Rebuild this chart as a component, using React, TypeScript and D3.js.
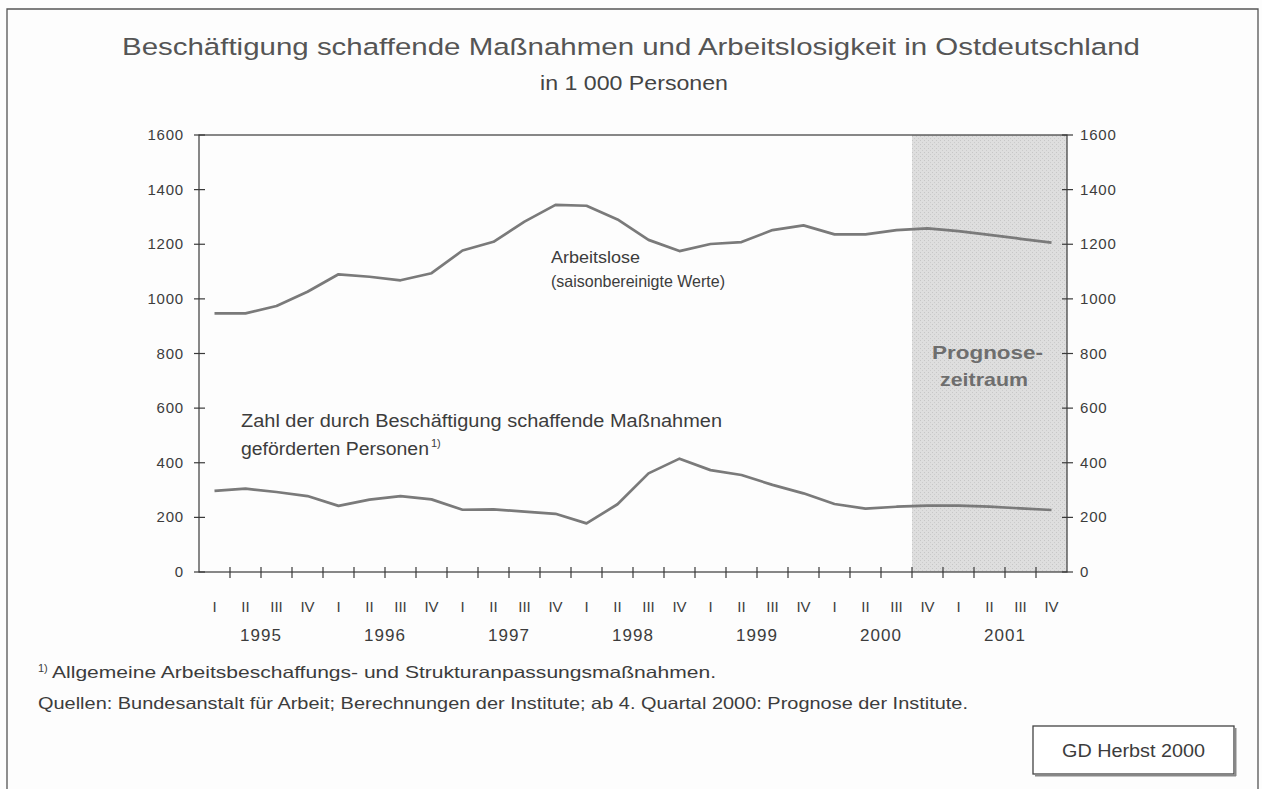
import React from "react";
import * as d3 from "d3";

const years = ["1995", "1996", "1997", "1998", "1999", "2000", "2001"];
const quarterNames = ["I", "II", "III", "IV"];
const arbeitslose = [947, 947, 974, 1026, 1090, 1081, 1068, 1094, 1177, 1209, 1283, 1344, 1341, 1291, 1216, 1175, 1201, 1208, 1252, 1269, 1236, 1236, 1252, 1258, 1248, 1234, 1220, 1206];
const abm = [297, 305, 293, 278, 242, 265, 278, 266, 228, 229, 221, 213, 178, 248, 361, 415, 373, 355, 319, 288, 249, 232, 239, 243, 243, 239, 233, 227];
const yTicks = [0, 200, 400, 600, 800, 1000, 1200, 1400, 1600];
const forecastStart = 23;

const W = 1262, H = 789;
const M = { left: 199, right: 1067, top: 135, bottom: 572 };
const FONT = "'Liberation Sans', Arial, Helvetica, sans-serif";

export default function App() {
  const quarters = years.flatMap((y) => quarterNames.map((q) => `${y}-${q}`));
  const x = d3.scaleBand<string>().domain(quarters).range([M.left, M.right]).paddingInner(0).paddingOuter(0);
  const y = d3.scaleLinear().domain([0, 1600]).range([M.bottom, M.top]);
  const cx = (i: number) => (x(quarters[i]) as number) + x.bandwidth() / 2;
  const line = d3.line<number>().x((_, i) => cx(i)).y((d) => y(d));
  const axisColor = "#3a3a3a";
  const textColor = "#3c3c3c";
  const fsX = x(quarters[forecastStart]) as number;

  return (
    <div style={{ position: "absolute", left: 0, top: 0 }}>
      <svg width={W} height={H} style={{ display: "block", background: "#fdfdfd" }} fontFamily={FONT}>
        <defs>
          <pattern id="speckle" width="4" height="4" patternUnits="userSpaceOnUse">
            <rect width="4" height="4" fill="#dedede" />
            <rect x="0" y="0" width="1" height="1" fill="#c6c6c6" />
            <rect x="2" y="2" width="1" height="1" fill="#cbcbcb" />
          </pattern>
        </defs>
        <path d={`M7,${H} L7,9 L1258,9 L1258,${H}`} fill="none" stroke="#555" strokeWidth={1.3} />

        <text x={122} y={55} fontSize={24.5} fill="#555" textLength={1018} lengthAdjust="spacingAndGlyphs">Beschäftigung schaffende Maßnahmen und Arbeitslosigkeit in Ostdeutschland</text>
        <text x={540} y={90} fontSize={19.5} fill="#444" textLength={188} lengthAdjust="spacingAndGlyphs">in 1 000 Personen</text>

        <rect x={fsX} y={M.top} width={M.right - fsX} height={M.bottom - M.top} fill="url(#speckle)" />
        <rect x={M.left} y={M.top} width={M.right - M.left} height={M.bottom - M.top} fill="none" stroke={axisColor} strokeWidth={1.2} />

        {yTicks.map((t) => (
          <g key={t}>
            <line x1={M.left - 5} x2={M.left + 6} y1={y(t)} y2={y(t)} stroke={axisColor} strokeWidth={1.2} />
            <line x1={M.right - 5} x2={M.right + 6} y1={y(t)} y2={y(t)} stroke={axisColor} strokeWidth={1.2} />
            <text x={M.left - 15} y={y(t) + 5} textAnchor="end" fontSize={15} letterSpacing={0.8} fill={textColor}>{t}</text>
            <text x={M.right + 13} y={y(t) + 5} textAnchor="start" fontSize={15} letterSpacing={0.8} fill={textColor}>{t}</text>
          </g>
        ))}

        {quarters.map((q, i) =>
          i > 0 ? <line key={q} x1={x(q) as number} x2={x(q) as number} y1={M.bottom - 5} y2={M.bottom + 6} stroke={axisColor} strokeWidth={1.2} /> : null
        )}
        {quarters.map((q, i) => (
          <text key={"l" + q} x={cx(i)} y={612} textAnchor="middle" fontSize={15} fill={textColor}>{quarterNames[i % 4]}</text>
        ))}
        {years.map((yr) => (
          <text key={yr} x={(x(`${yr}-II`) as number) + x.bandwidth()} y={641} textAnchor="middle" fontSize={17} letterSpacing={1} fill={textColor}>{yr}</text>
        ))}

        <path d={line(arbeitslose) || ""} fill="none" stroke="#7a7a7a" strokeWidth={2.7} strokeLinejoin="round" />
        <path d={line(abm) || ""} fill="none" stroke="#7a7a7a" strokeWidth={2.7} strokeLinejoin="round" />

        <text x={551} y={263} fontSize={16.5} fill={textColor} textLength={89} lengthAdjust="spacingAndGlyphs">Arbeitslose</text>
        <text x={551} y={287} fontSize={16.5} fill={textColor} textLength={174} lengthAdjust="spacingAndGlyphs">(saisonbereinigte Werte)</text>
        <text x={241} y={427} fontSize={17.5} fill={textColor} textLength={481} lengthAdjust="spacingAndGlyphs">Zahl der durch Beschäftigung schaffende Maßnahmen</text>
        <text x={241} y={455} fontSize={17.5} fill={textColor} textLength={188} lengthAdjust="spacingAndGlyphs">geförderten Personen</text>
        <text x={431} y={447} fontSize={11} fill={textColor}>1)</text>

        <text x={932} y={359} fontSize={19} fontWeight="bold" fill="#6e6e6e" textLength={111} lengthAdjust="spacingAndGlyphs">Prognose-</text>
        <text x={940} y={386} fontSize={19} fontWeight="bold" fill="#6e6e6e" textLength={88} lengthAdjust="spacingAndGlyphs">zeitraum</text>

        <text x={38} y={672} fontSize={11} fill={textColor}>1)</text>
        <text x={52} y={678} fontSize={16.5} fill={textColor} textLength={664} lengthAdjust="spacingAndGlyphs">Allgemeine Arbeitsbeschaffungs- und Strukturanpassungsmaßnahmen.</text>
        <text x={38} y={709} fontSize={16.5} fill={textColor} textLength={930} lengthAdjust="spacingAndGlyphs">Quellen: Bundesanstalt für Arbeit; Berechnungen der Institute; ab 4. Quartal 2000: Prognose der Institute.</text>

        <rect x={1033} y={726} width={201} height={48} fill="#fff" stroke="#444" strokeWidth={1.3} />
        <line x1={1035} x2={1236} y1={775.5} y2={775.5} stroke="#888" strokeWidth={2} />
        <line x1={1235.5} x2={1235.5} y1={728} y2={776} stroke="#888" strokeWidth={2} />
        <text x={1062} y={757} fontSize={18} fill={textColor} textLength={143} lengthAdjust="spacingAndGlyphs">GD Herbst 2000</text>
      </svg>
    </div>
  );
}
